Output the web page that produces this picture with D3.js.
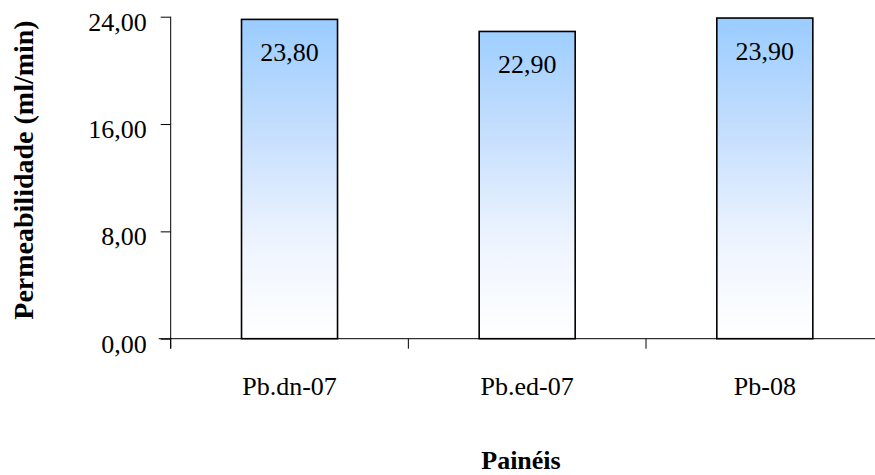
<!DOCTYPE html>
<html>
<head>
<meta charset="utf-8">
<script src="https://cdn.jsdelivr.net/npm/d3@7"></script>
<style>
  html, body { margin: 0; padding: 0; background: #fff; }
  svg { display: block; }
  text { font-family: "Liberation Serif", "Times New Roman", serif; fill: #000; }
</style>
</head>
<body>
<svg id="chart" width="875" height="475" font-family="'Liberation Serif', serif"></svg>
<script>
const categories = ["Pb.dn-07", "Pb.ed-07", "Pb-08"];
const values = [23.80, 22.90, 23.90];
const yTicks = [0, 8, 16, 24];
const xTitle = "Painéis";
const yTitle = "Permeabilidade (ml/min)";

const svg = d3.select("#chart");
const left = 170.7, step = 237.65;
const x = d3.scaleBand().domain(categories).range([left, left + step * categories.length]).padding(0);
const y = d3.scaleLinear().domain([0, 24]).range([338.7, 16.7]);
const fmt = v => v.toFixed(2).replace(".", ",");

const defs = svg.append("defs");
const grad = defs.append("linearGradient")
  .attr("id", "barGrad").attr("gradientUnits", "userSpaceOnUse")
  .attr("x1", 0).attr("x2", 0).attr("y1", y(24)).attr("y2", y(0));
grad.append("stop").attr("offset", 0).attr("stop-color", "#99CCFF");
grad.append("stop").attr("offset", 0.35).attr("stop-color", "#C4DEFD");
grad.append("stop").attr("offset", 0.7).attr("stop-color", "#EEF4FE");
grad.append("stop").attr("offset", 1).attr("stop-color", "#FFFFFF");

const barW = x.bandwidth() * 0.404;

// bars
svg.append("g").selectAll("rect").data(categories).join("rect")
  .attr("x", d => x(d) + x.bandwidth() / 2 - barW / 2)
  .attr("y", (d, i) => y(values[i]))
  .attr("width", barW)
  .attr("height", (d, i) => y(0) - y(values[i]))
  .attr("fill", "url(#barGrad)")
  .attr("stroke", "#000")
  .attr("stroke-width", 1.6);

// value labels
svg.append("g").selectAll("text").data(categories).join("text")
  .attr("x", d => x(d) + x.bandwidth() / 2)
  .attr("y", (d, i) => y(values[i]) + 41.5)
  .attr("text-anchor", "middle")
  .style("font-size", "26px")
  .text((d, i) => fmt(values[i]));

// y axis
const yAxis = d3.axisLeft(y).tickValues(yTicks).tickSize(10).tickPadding(0).tickFormat(fmt);
const gy = svg.append("g").attr("transform", `translate(${left},0)`).call(yAxis);
gy.attr("font-family", null);
gy.select(".domain").attr("d", `M0,${y(24)}V${y(0) + 10}`).attr("stroke", "#000");
gy.selectAll(".tick line").attr("stroke", "#000");
gy.selectAll(".tick text")
  .attr("x", -24).attr("dy", null).attr("y", 13.3)
  .style("font-size", "26px").style("font-family", "'Liberation Serif', serif")
  .attr("text-anchor", "end");

// x axis
const xAxis = d3.axisBottom(x).tickSize(0).tickPadding(0);
const gx = svg.append("g").attr("transform", `translate(0,${y(0)})`).call(xAxis);
gx.attr("font-family", null);
gx.select(".domain").attr("d", `M${left - 12},0H875`).attr("stroke", "#000");
gx.selectAll(".tick text")
  .attr("y", 56.3).attr("dy", null)
  .style("font-size", "26px").style("font-family", "'Liberation Serif', serif");
// category boundary ticks
gx.append("g").selectAll("line").data(categories).join("line")
  .attr("x1", d => x(d)).attr("x2", d => x(d))
  .attr("y1", 0).attr("y2", 10)
  .attr("stroke", "#000");

// titles
svg.append("text")
  .attr("x", 521).attr("y", 469)
  .attr("text-anchor", "middle")
  .style("font-size", "26px").style("font-weight", "bold")
  .text(xTitle);

svg.append("text")
  .attr("transform", "translate(33,170) rotate(-90)")
  .attr("text-anchor", "middle")
  .style("font-size", "28px").style("font-weight", "bold")
  .text(yTitle);
</script>
</body>
</html>
